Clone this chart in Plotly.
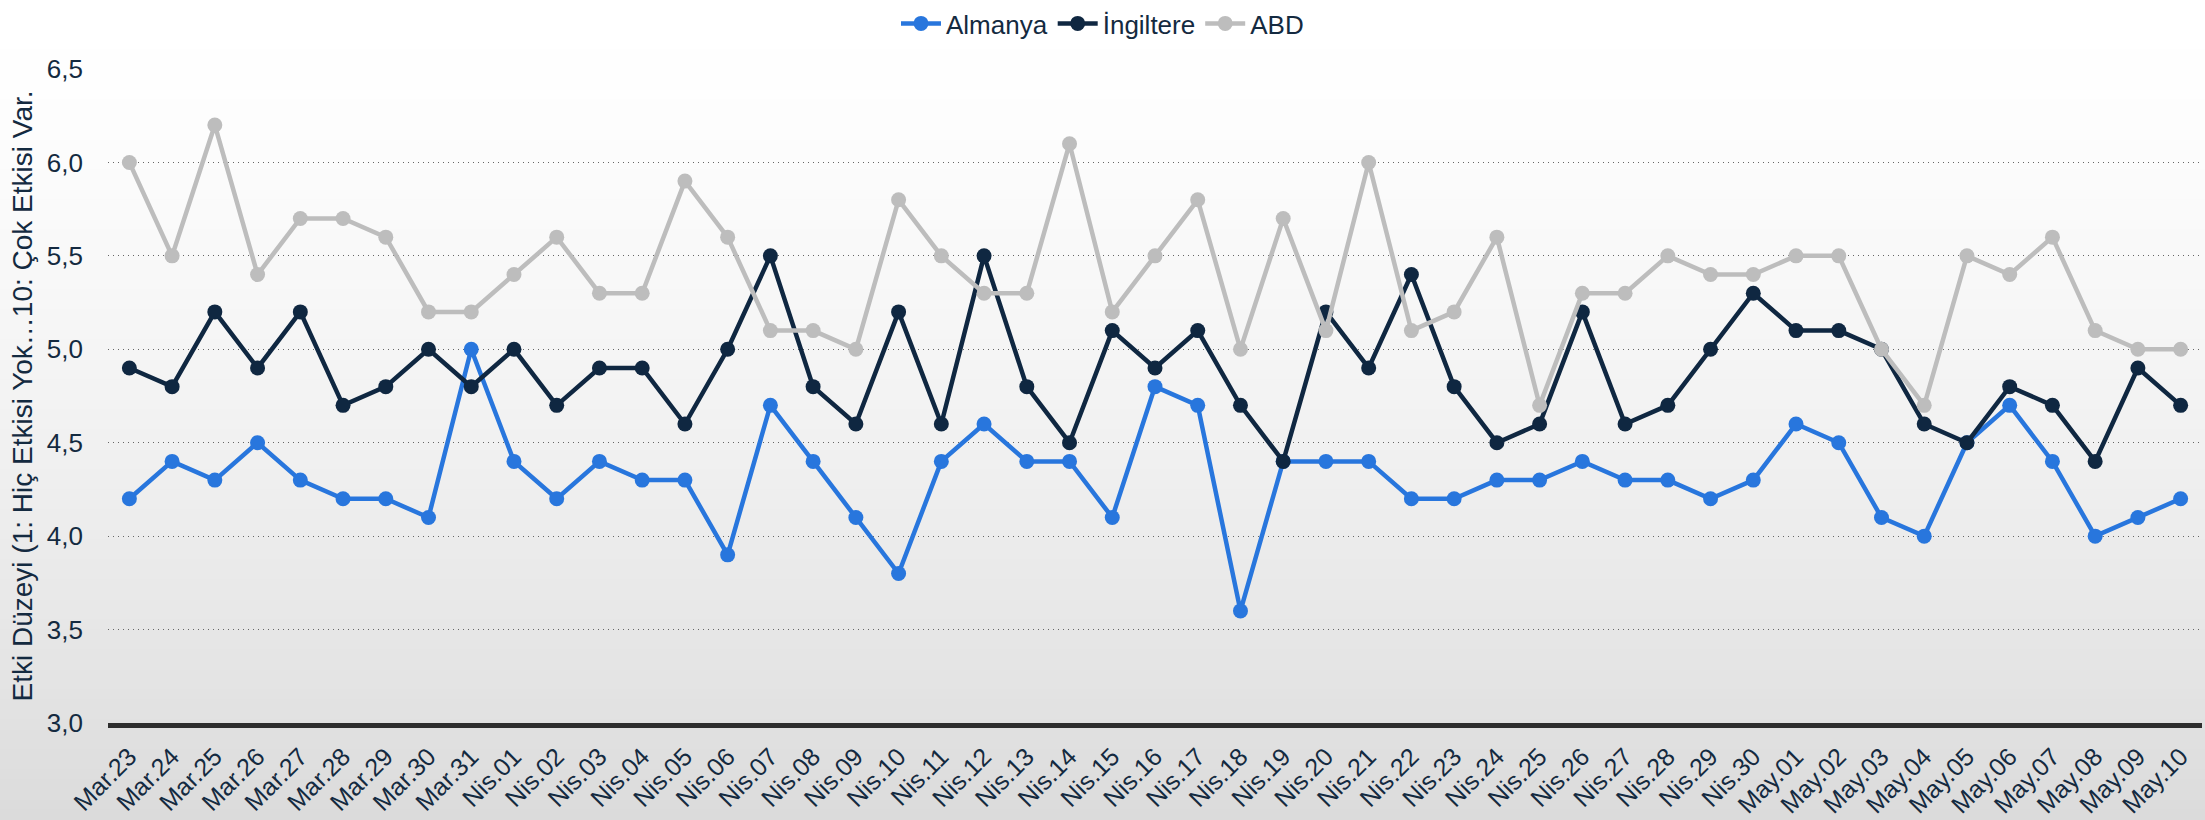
import plotly.graph_objects as go

dates = ["Mar.23", "Mar.24", "Mar.25", "Mar.26", "Mar.27", "Mar.28", "Mar.29", "Mar.30", "Mar.31",
         "Nis.01", "Nis.02", "Nis.03", "Nis.04", "Nis.05", "Nis.06", "Nis.07", "Nis.08", "Nis.09", "Nis.10",
         "Nis.11", "Nis.12", "Nis.13", "Nis.14", "Nis.15", "Nis.16", "Nis.17", "Nis.18", "Nis.19", "Nis.20",
         "Nis.21", "Nis.22", "Nis.23", "Nis.24", "Nis.25", "Nis.26", "Nis.27", "Nis.28", "Nis.29", "Nis.30",
         "May.01", "May.02", "May.03", "May.04", "May.05", "May.06", "May.07", "May.08", "May.09", "May.10"]

almanya = [4.2, 4.4, 4.3, 4.5, 4.3, 4.2, 4.2, 4.1, 5.0,
           4.4, 4.2, 4.4, 4.3, 4.3, 3.9, 4.7, 4.4, 4.1, 3.8,
           4.4, 4.6, 4.4, 4.4, 4.1, 4.8, 4.7, 3.6, 4.4, 4.4,
           4.4, 4.2, 4.2, 4.3, 4.3, 4.4, 4.3, 4.3, 4.2, 4.3,
           4.6, 4.5, 4.1, 4.0, 4.5, 4.7, 4.4, 4.0, 4.1, 4.2]

ingiltere = [4.9, 4.8, 5.2, 4.9, 5.2, 4.7, 4.8, 5.0, 4.8,
             5.0, 4.7, 4.9, 4.9, 4.6, 5.0, 5.5, 4.8, 4.6, 5.2,
             4.6, 5.5, 4.8, 4.5, 5.1, 4.9, 5.1, 4.7, 4.4, 5.2,
             4.9, 5.4, 4.8, 4.5, 4.6, 5.2, 4.6, 4.7, 5.0, 5.3,
             5.1, 5.1, 5.0, 4.6, 4.5, 4.8, 4.7, 4.4, 4.9, 4.7]

abd = [6.0, 5.5, 6.2, 5.4, 5.7, 5.7, 5.6, 5.2, 5.2,
       5.4, 5.6, 5.3, 5.3, 5.9, 5.6, 5.1, 5.1, 5.0, 5.8,
       5.5, 5.3, 5.3, 6.1, 5.2, 5.5, 5.8, 5.0, 5.7, 5.1,
       6.0, 5.1, 5.2, 5.6, 4.7, 5.3, 5.3, 5.5, 5.4, 5.4,
       5.5, 5.5, 5.0, 4.7, 5.5, 5.4, 5.6, 5.1, 5.0, 5.0]

series = [("Almanya", almanya, "#2876DD"),
          ("İngiltere", ingiltere, "#0F2741"),
          ("ABD", abd, "#BDBDBD")]

W, H = 2205, 820
ML, MR, MT, MB = 108, 3, 69, 97
FONT = "Liberation Sans, Arial, sans-serif"
TXT = "#142a40"

fig = go.Figure()
for name, vals, col in series:
    fig.add_trace(go.Scatter(
        x=dates, y=vals, name=name, mode="lines+markers",
        line=dict(color=col, width=4.5),
        marker=dict(color=col, size=15),
    ))

# vertical gradient background across the whole figure
plot_h = H - MT - MB
plot_w = W - ML - MR
n = 82
shapes = []
for i in range(n):
    y_top = i * H / n
    y_bot = (i + 1) * H / n
    t = ((y_top + y_bot) / 2) / H
    c = int(round(255 - 36 * t ** 1.5))
    shapes.append(dict(
        type="rect", xref="paper", yref="paper", layer="below",
        x0=-ML / plot_w - 0.01, x1=1 + MR / plot_w + 0.01,
        y0=(H - MB - y_bot) / plot_h, y1=(H - MB - y_top) / plot_h + 0.001,
        fillcolor=f"rgb({c},{c},{c})", line=dict(width=0),
    ))

fig.update_layout(
    width=W, height=H, autosize=False,
    margin=dict(l=ML, r=MR, t=MT, b=MB),
    paper_bgcolor="white", plot_bgcolor="rgba(0,0,0,0)",
    separators=",.",
    font=dict(family=FONT, size=26, color=TXT),
    shapes=shapes,
    showlegend=True,
    legend=dict(orientation="h", x=0.5, xref="container", xanchor="center",
                y=1.0, yref="container", yanchor="top",
                font=dict(size=26, color=TXT), bgcolor="rgba(0,0,0,0)",
                itemwidth=40, tracegroupgap=0),
    xaxis=dict(type="category", range=[-0.5, len(dates) - 0.5], tickangle=-45,
               showgrid=False, showline=True, linecolor="#2e2e2e", linewidth=5,
               ticks="", tickfont=dict(size=25, color=TXT), ticklabelstandoff=4,
               automargin=False),
    yaxis=dict(range=[3.0, 6.5], dtick=0.5, tick0=3.0, tickformat=".1f",
               showgrid=True, gridcolor="#666666", gridwidth=1, griddash="1px,4px",
               zeroline=False, showline=False, ticks="",
               tickfont=dict(size=26, color=TXT), ticklabelstandoff=24,
               automargin=False,
               title=dict(text="Etki Düzeyi (1: Hiç Etkisi Yok…10: Çok Etkisi Var.",
                          font=dict(size=28, color=TXT), standoff=6)),
)

fig.write_html("out.html", config={"displayModeBar": False},
               post_script="document.body.style.margin='0';document.body.style.overflow='hidden';")
